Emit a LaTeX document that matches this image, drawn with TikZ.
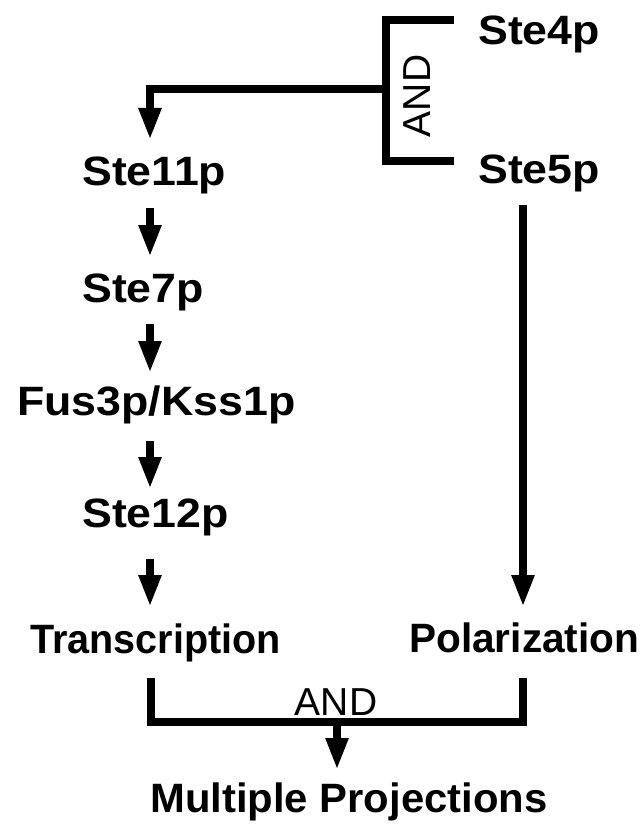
\documentclass[tikz,border=0pt]{standalone}
\usepackage{fontspec}
\setmainfont{Liberation Sans}
\usetikzlibrary{arrows.meta}
\tikzset{
  lbl/.style={font=\fontsize{41}{41}\selectfont\bfseries, inner sep=0pt, anchor=base west},
  andlbl/.style={font=\fontsize{39}{39}\selectfont, inner sep=0pt},
  wire/.style={line width=8pt, line cap=butt, line join=miter},
  arr/.style={wire, -{Triangle[length=32pt,width=21pt]}},
}
\begin{document}
\begin{tikzpicture}[x=1pt,y=-1pt]
\useasboundingbox (0,0) rectangle (644,824);
\node[lbl, xscale=1.09] (ste4) at (478,45) {Ste4p};
\node[lbl, xscale=1.09] (ste5) at (478,183) {Ste5p};
\node[lbl, xscale=1.09] (ste11) at (82,185) {Ste11p};
\node[lbl, xscale=1.09] (ste7) at (82,302) {Ste7p};
\node[lbl, xscale=1.09] (fus) at (17,415) {Fus3p/Kss1p};
\node[lbl, xscale=1.09] (ste12) at (82,527) {Ste12p};
\node[lbl, xscale=0.965] (tr) at (30,653) {Transcription};
\node[lbl, xscale=0.99] (pol) at (409,652) {Polarization};
\node[lbl, xscale=1.02] (mp) at (150,812) {Multiple Projections};
% top AND bracket
\coordinate (t1) at (454,20);
\coordinate (t2) at (386,20);
\coordinate (t3) at (386,161);
\coordinate (t4) at (454,161);
\coordinate (tm) at (386,89);
\coordinate (tl) at (150,89);
\coordinate (ta) at (150,140);
\draw[wire] (t1) -- (t2) -- (t3) -- (t4);
\node[andlbl, rotate=90, anchor=base] (and1) at (430,96) {AND};
\draw[arr] (tm) -- (tl) -- (ta);
% chain arrows
\coordinate (a1s) at (150,208); \coordinate (a1e) at (150,257);
\coordinate (a2s) at (150,324); \coordinate (a2e) at (150,373);
\coordinate (a3s) at (150,441); \coordinate (a3e) at (150,489);
\coordinate (a4s) at (150,559); \coordinate (a4e) at (150,607);
\draw[arr] (a1s) -- (a1e);
\draw[arr] (a2s) -- (a2e);
\draw[arr] (a3s) -- (a3e);
\draw[arr] (a4s) -- (a4e);
\coordinate (p1) at (523,205); \coordinate (p2) at (523,607);
\draw[arr] (p1) -- (p2);
% bottom AND bracket
\coordinate (b1) at (151,678);
\coordinate (b2) at (151,722);
\coordinate (b3) at (523,722);
\coordinate (b4) at (523,678);
\draw[wire] (b1) -- (b2) -- (b3) -- (b4);
\node[andlbl, anchor=base] (and2) at (336,715) {AND};
\coordinate (bm) at (337,722);
\coordinate (be) at (337,770);
\draw[arr] (bm) -- (be);
\end{tikzpicture}
\end{document}
